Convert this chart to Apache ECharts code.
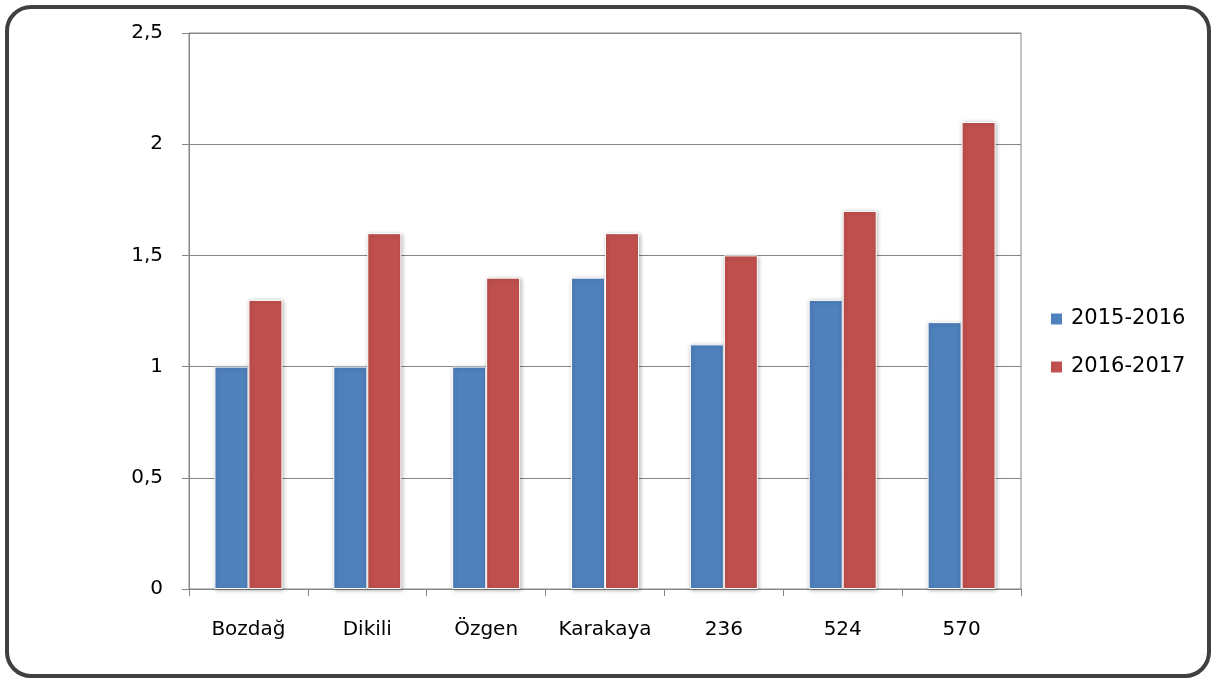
<!DOCTYPE html>
<html>
<head>
<meta charset="utf-8">
<script src="https://cdn.jsdelivr.net/npm/echarts@6/dist/echarts.min.js"></script>
<style>
  html, body { margin: 0; padding: 0; background: #fff; }
  #chart { width: 1214px; height: 680px; }
</style>
</head>
<body>
<div id="chart"></div>
<script>
// Stations along the x axis
const categories = ['Bozdağ', 'Dikili', 'Özgen', 'Karakaya', '236', '524', '570'];
// Values per season
const season1Name = '2015-2016';
const season1Values = [1.0, 1.0, 1.0, 1.4, 1.1, 1.3, 1.2];
const season2Name = '2016-2017';
const season2Values = [1.3, 1.6, 1.4, 1.6, 1.5, 1.7, 2.1];

const FONT = '"DejaVu Sans", sans-serif';
const AXIS_GRAY = '#868686';

const chart = echarts.init(document.getElementById('chart'), null, { renderer: 'canvas' });

const barStyle = (color) => ({
  color: color,
  borderColor: '#ffffff',
  borderWidth: 1,
  shadowColor: 'rgba(0,0,0,0.28)',
  shadowBlur: 4,
  shadowOffsetX: 1,
  shadowOffsetY: 1
});

chart.setOption({
  animation: false,
  backgroundColor: '#ffffff',
  textStyle: { fontFamily: FONT },
  graphic: [{
    type: 'rect',
    shape: { x: 7, y: 7, width: 1202, height: 669, r: 24 },
    style: { fill: 'none', stroke: '#404040', lineWidth: 4 },
    z: 100
  }],
  grid: {
    left: 189, right: 193, top: 33, bottom: 91,
    show: true,
    borderColor: AXIS_GRAY,
    borderWidth: 1,
    backgroundColor: 'transparent'
  },
  legend: {
    orient: 'vertical',
    left: 1049,
    top: 307,
    padding: 0,
    itemWidth: 13,
    itemHeight: 13,
    itemGap: 24,
    icon: 'rect',
    textStyle: { fontFamily: FONT, fontSize: 21, lineHeight: 24, color: '#000', padding: [0, 0, 0, 3] },
    data: [season1Name, season2Name]
  },
  xAxis: {
    type: 'category',
    data: categories,
    axisLine: { lineStyle: { color: AXIS_GRAY, width: 1 } },
    axisTick: { show: true, interval: 0, length: 7, lineStyle: { color: AXIS_GRAY } },
    axisLabel: { interval: 0, fontFamily: FONT, fontSize: 20, color: '#000', margin: 31 }
  },
  yAxis: {
    type: 'value',
    min: 0,
    max: 2.5,
    interval: 0.5,
    axisLine: { show: true, lineStyle: { color: AXIS_GRAY, width: 1 } },
    axisTick: { show: true, length: 7, lineStyle: { color: AXIS_GRAY } },
    splitLine: { show: true, lineStyle: { color: AXIS_GRAY, width: 1 } },
    axisLabel: {
      fontFamily: FONT, fontSize: 20, color: '#000', margin: 26,
      formatter: (v) => String(v).replace('.', ',')
    }
  },
  series: [
    {
      name: season1Name,
      type: 'bar',
      data: season1Values,
      barWidth: 34,
      barGap: '0%',
      itemStyle: barStyle('#4F81BD')
    },
    {
      name: season2Name,
      type: 'bar',
      data: season2Values,
      barWidth: 34,
      barGap: '0%',
      itemStyle: barStyle('#C0504D')
    }
  ]
});
</script>
</body>
</html>
